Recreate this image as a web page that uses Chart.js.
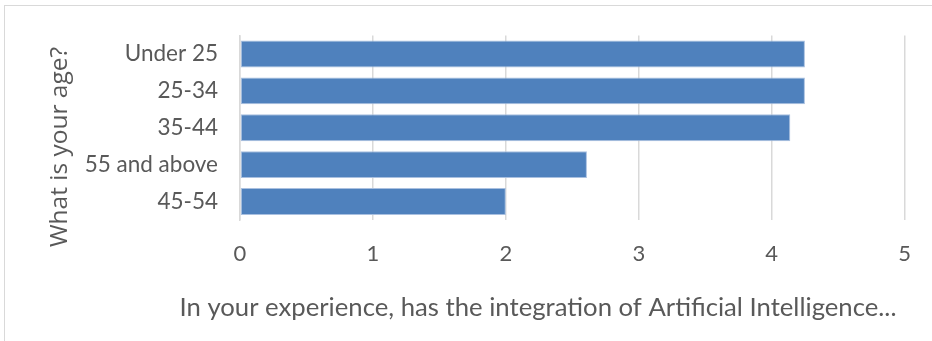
<!DOCTYPE html>
<html>
<head>
<meta charset="utf-8">
<script src="https://cdn.jsdelivr.net/npm/chart.js@4.4.1/dist/chart.umd.min.js"></script>
<style>
  html, body { margin: 0; padding: 0; background: #fff; }
  #wrap { position: relative; width: 932px; height: 341px; overflow: hidden; }
  #frame { position: absolute; left: 4px; top: 5px; width: 940px; height: 345px; border: 1px solid #D9D9D9; box-sizing: border-box; }
  canvas { position: absolute; left: 0; top: 0; }
</style>
</head>
<body>
<div id="wrap">
  <div id="frame"></div>
  <canvas id="c" width="932" height="341"></canvas>
</div>
<script>
// Age groups and their average rating
const ageGroups = ['Under 25', '25-34', '35-44', '55 and above', '45-54'];
const ratings = [4.25, 4.25, 4.14, 2.61, 2.0];
const xTicks = [0, 1, 2, 3, 4, 5];

const yTitle = 'What is your age?';
const xTitle = 'In your experience, has the integration of Artificial Intelligence...';

const textColor = '#595959';
const gridColor = '#D9D9D9';

// Axis titles are placed relative to the whole chart box, not the plot area
const axisTitles = {
  id: 'axisTitles',
  afterDraw(chart) {
    const ctx = chart.ctx;
    ctx.save();
    ctx.fillStyle = textColor;
    ctx.textAlign = 'center';
    ctx.textBaseline = 'middle';
    ctx.font = '25.7px Lato';
    ctx.fillText(xTitle, 538, 308);
    ctx.translate(60, 147);
    ctx.rotate(-Math.PI / 2);
    ctx.font = '24.5px "Open Sans"';
    ctx.fillText(yTitle, 0, 0);
    ctx.restore();
  }
};

new Chart(document.getElementById('c'), {
  type: 'bar',
  data: {
    labels: ageGroups,
    datasets: [{
      data: ratings,
      backgroundColor: '#4F81BD',
      borderColor: '#A9C0E0',
      borderWidth: 1,
      borderSkipped: false,
      barPercentage: 0.73,
      categoryPercentage: 1.0
    }]
  },
  options: {
    indexAxis: 'y',
    responsive: false,
    animation: false,
    layout: { padding: { left: 17, top: 35, right: 24, bottom: 17 } },
    plugins: { legend: { display: false }, tooltip: { enabled: false } },
    scales: {
      x: {
        min: xTicks[0],
        max: xTicks[xTicks.length - 1],
        afterBuildTicks: (s) => { s.ticks = xTicks.map(v => ({ value: v })); },
        grid: { color: gridColor, lineWidth: 1.5, drawTicks: false },
        border: { display: false },
        ticks: { color: textColor, padding: 21, font: { family: 'Lato', size: 22 } },
        afterFit: (s) => { s.height = 104; }
      },
      y: {
        grid: { display: false, drawTicks: false },
        border: { display: true, color: gridColor, width: 1.5 },
        ticks: { color: textColor, padding: 22, font: { family: 'Lato', size: 22.5 } },
        afterFit: (s) => { s.width = 223; }
      }
    }
  },
  plugins: [axisTitles]
});
</script>
</body>
</html>
